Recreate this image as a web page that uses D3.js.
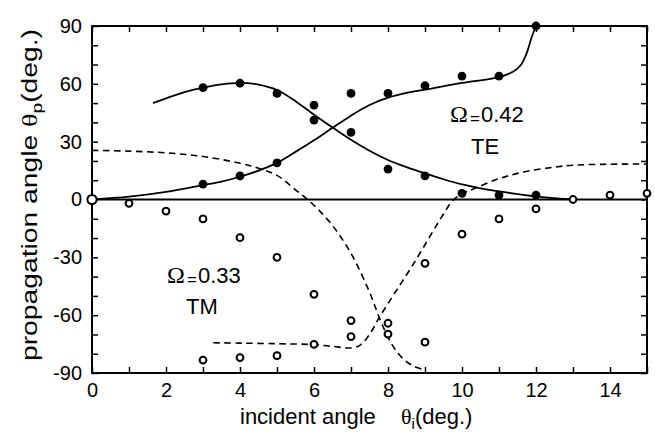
<!DOCTYPE html>
<html><head><meta charset="utf-8">
<script src="https://cdn.jsdelivr.net/npm/d3@7"></script>
<style>body{margin:0;background:#fff}svg{display:block}</style>
</head><body>
<svg id="c" width="655" height="434"></svg>
<script>
// ---- data ----
const xTicks = d3.range(0, 16, 1);
const xTickLabels = [0, 2, 4, 6, 8, 10, 12, 14];
const yTicks = d3.range(-90, 91, 10);
const yTickLabels = [-90, -60, -30, 0, 30, 60, 90];

// TE (Omega = 0.42) measured points (filled)
const teX = [3, 3, 4, 4, 5, 5, 6, 6, 7, 7, 8, 8, 9, 9, 10, 10, 11, 11, 12, 12];
const teY = [58, 8, 60.3, 12.2, 55, 19, 49, 41.2, 55, 34.8, 55, 15.8, 59, 12.3, 64, 3.2, 64, 2.3, 90, 2.3];

// TM (Omega = 0.33) measured points (open)
const tmX = [1, 2, 3, 3, 4, 4, 5, 5, 6, 6, 7, 7, 8, 8, 9, 9, 10, 11, 12, 13, 14, 15];
const tmY = [-2, -6, -10.1, -83.3, -19.8, -82, -30, -81, -49.2, -75.1, -62.8, -71.1, -64.2, -69.8, -33.1, -74, -18, -10.1, -4.9, 0, 2.3, 3.2];
const originPoint = [0, 0];

// theory curves
const teCurveA = [[1.65,50],[2,52.5],[2.5,55.7],[3,58],[3.5,59.7],[4,60.5],[4.5,59.6],[5,56.8],[5.5,51],[6,44],[6.5,37.4],[7,31],[7.5,25.3],[8,20.5],[8.5,16.8],[9,13.6],[9.5,10.5],[10,7.8],[10.5,5.8],[11,4.2],[12,1.6],[12.95,0]];
const teCurveB = [[0,0],[1,1.5],[2,4],[3,7.5],[3.5,9.3],[4,11.8],[4.5,15],[5,19],[5.5,24.7],[6,30.7],[6.5,37.2],[7,43.5],[7.5,49],[8,52.8],[8.5,55.3],[9,57],[10,60.5],[11,63.5],[11.4,66.5],[11.6,70],[11.75,76],[11.88,84],[12,90]];
const tmCurveA = [[0,25.5],[1,25.1],[2,24.2],[3,22.3],[4,18.8],[4.5,16.2],[5,12.5],[5.5,5],[6,-3],[6.5,-13.5],[7,-28],[7.5,-48],[7.8,-63],[8.1,-75],[8.4,-82.5],[8.7,-86.5],[9,-88.4]];
const tmCurveB = [[3.28,-74.3],[4,-74.5],[5,-74.8],[6,-75.3],[6.5,-76.2],[7,-77],[7.25,-75.5],[7.5,-70],[7.77,-61],[8.2,-48],[8.7,-33],[9.2,-17],[9.5,-7.5],[9.75,-0.5],[10,2.8],[10.35,5.8],[11,10.8],[11.7,14.4],[12.5,16.8],[13,17.8],[14,18.3],[15,18.4]];

// ---- drawing ----
const svg = d3.select("#c");
const x = d3.scaleLinear().domain([0, 15]).range([92, 647]);
const y = d3.scaleLinear().domain([-90, 90]).range([373, 26]);
const font = "'Liberation Sans', Arial, Helvetica, sans-serif";
const serif = "'Liberation Serif', 'Times New Roman', serif";

function styleAxis(g) {
  g.select(".domain").remove();
  g.selectAll(".tick line").attr("stroke", "#000").attr("stroke-width", 1.5);
  g.selectAll(".tick text").attr("font-family", font).attr("font-size", 20).attr("fill", "#000");
}
svg.append("g").attr("transform", `translate(0,${y(-90)})`)
  .call(d3.axisBottom(x).tickValues(xTicks).tickSize(-6).tickPadding(10)
    .tickFormat(d => xTickLabels.includes(d) ? d : ""))
  .call(styleAxis);
svg.append("g").attr("transform", `translate(0,${y(90)})`)
  .call(d3.axisTop(x).tickValues(xTicks).tickSize(-6).tickFormat(""))
  .call(styleAxis);
svg.append("g").attr("transform", `translate(${x(0)},0)`)
  .call(d3.axisLeft(y).tickValues(yTicks).tickSize(-6).tickPadding(10)
    .tickFormat(d => yTickLabels.includes(d) ? d : ""))
  .call(styleAxis);
svg.append("g").attr("transform", `translate(${x(15)},0)`)
  .call(d3.axisRight(y).tickValues(yTicks).tickSize(-6).tickFormat(""))
  .call(styleAxis);

// zero line
svg.append("line").attr("x1", x(0)).attr("x2", x(15)).attr("y1", y(0)).attr("y2", y(0))
  .attr("stroke", "#000").attr("stroke-width", 1.8);

// frame
svg.append("rect").attr("x", x(0)).attr("y", y(90)).attr("width", x(15) - x(0)).attr("height", y(-90) - y(90))
  .attr("fill", "none").attr("stroke", "#000").attr("stroke-width", 2);

const line = d3.line().x(d => x(d[0])).y(d => y(d[1])).curve(d3.curveCatmullRom.alpha(0.5));
[teCurveA, teCurveB].forEach(c => svg.append("path").attr("d", line(c)).attr("fill", "none")
  .attr("stroke", "#000").attr("stroke-width", 1.8));
[tmCurveA, tmCurveB].forEach(c => svg.append("path").attr("d", line(c)).attr("fill", "none")
  .attr("stroke", "#000").attr("stroke-width", 1.6).attr("stroke-dasharray", "6.5,4.5"));

// points
svg.append("g").selectAll("circle").data(teX.map((v, i) => [v, teY[i]])).join("circle")
  .attr("cx", d => x(d[0])).attr("cy", d => y(d[1])).attr("r", 4.4).attr("fill", "#000");
svg.append("g").selectAll("circle").data(tmX.map((v, i) => [v, tmY[i]])).join("circle")
  .attr("cx", d => x(d[0])).attr("cy", d => y(d[1])).attr("r", 3.4)
  .attr("fill", "#fff").attr("stroke", "#000").attr("stroke-width", 2);
svg.append("circle").attr("cx", x(originPoint[0])).attr("cy", y(originPoint[1])).attr("r", 4.6)
  .attr("fill", "#fff").attr("stroke", "#000").attr("stroke-width", 2);

// annotations
function omegaLabel(x0, base, value, sub, subCx) {
  svg.append("text").attr("x", x0).attr("y", base).attr("font-family", serif).attr("font-size", 24).text("Ω");
  svg.append("text").attr("x", x0 + 20).attr("y", base + 2).attr("font-family", font).attr("font-size", 17).text("=");
  svg.append("text").attr("x", x0 + 31).attr("y", base).attr("font-family", font).attr("font-size", 22).text(value);
  svg.append("text").attr("x", subCx).attr("y", base + 31.5).attr("text-anchor", "middle")
    .attr("font-family", font).attr("font-size", 22).text(sub);
}
omegaLabel(450, 122, "0.42", "TE", 485);
omegaLabel(167, 282.5, "0.33", "TM", 202);

// axis titles
const xt = svg.append("text").attr("y", 424).attr("font-family", font).attr("font-size", 22);
xt.append("tspan").attr("x", 240).text("incident angle");
xt.append("tspan").attr("x", 401).attr("font-family", serif).text("θ");
xt.append("tspan").attr("font-size", 15).attr("dy", 5).text("i");
xt.append("tspan").attr("font-size", 22).attr("dy", -5).text("(deg.)");

const yt = svg.append("text").attr("transform", "translate(37,361) rotate(-90)")
  .attr("font-family", font).attr("font-size", 22)
  .attr("textLength", 332).attr("lengthAdjust", "spacingAndGlyphs");
yt.append("tspan").text("propagation angle ");
yt.append("tspan").attr("font-family", serif).text("θ");
yt.append("tspan").attr("font-size", 15).attr("dy", 5).text("p");
yt.append("tspan").attr("dy", -5).text("(deg.)");
</script>
</body></html>
